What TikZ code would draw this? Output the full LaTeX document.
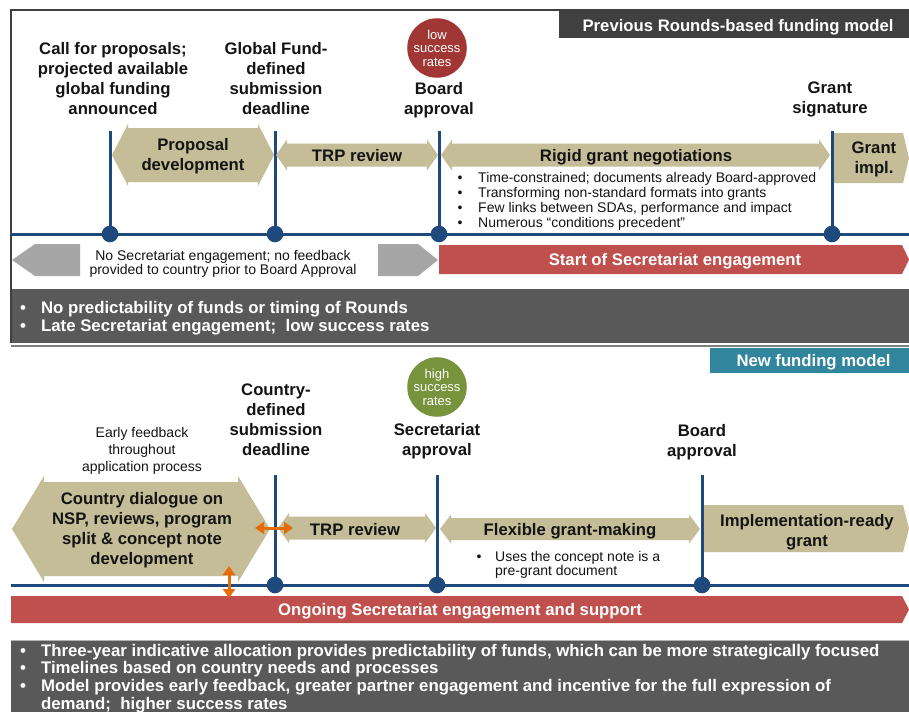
\documentclass[tikz,border=0pt]{standalone}
\usepackage{fontspec}
\setmainfont{Liberation Sans}
\usepackage{tikz}
\usetikzlibrary{arrows.meta}
\definecolor{fundTan}{RGB}{196,189,151}
\definecolor{fundRed}{RGB}{192,80,77}
\definecolor{lineBlue}{RGB}{31,73,125}
\definecolor{boxGray}{RGB}{89,89,89}
\definecolor{titleDark}{RGB}{64,64,64}
\definecolor{titleTeal}{RGB}{49,133,156}
\definecolor{arrowGray}{RGB}{166,166,166}
\definecolor{lowRed}{RGB}{160,55,52}
\definecolor{highGreen}{RGB}{119,147,60}
\definecolor{fbOrange}{RGB}{228,108,10}
\definecolor{textDark}{RGB}{20,20,20}

% [style]{x1}{x2}{ymid}{body half}{head half}{head length}
\newcommand{\dblShape}[7][]{%
  \path[#1] (#2,#4) -- ({#2+#7},{#4-#6}) -- ({#2+#7},{#4-#5}) -- ({#3-#7},{#4-#5})
    -- ({#3-#7},{#4-#6}) -- (#3,#4) -- ({#3-#7},{#4+#6}) -- ({#3-#7},{#4+#5})
    -- ({#2+#7},{#4+#5}) -- ({#2+#7},{#4+#6}) -- cycle;}
\newcommand{\rightShape}[7][]{%
  \path[#1] (#2,{#4-#5}) -- ({#3-#7},{#4-#5}) -- ({#3-#7},{#4-#6}) -- (#3,#4)
    -- ({#3-#7},{#4+#6}) -- ({#3-#7},{#4+#5}) -- (#2,{#4+#5}) -- cycle;}
\newcommand{\leftShape}[7][]{%
  \path[#1] (#3,{#4-#5}) -- ({#2+#7},{#4-#5}) -- ({#2+#7},{#4-#6}) -- (#2,#4)
    -- ({#2+#7},{#4+#6}) -- ({#2+#7},{#4+#5}) -- (#3,{#4+#5}) -- cycle;}

\begin{document}
\begin{tikzpicture}[
    x=1pt, y=-1pt,
    every node/.style={inner sep=0pt, align=center, text=textDark},
    mileLabel/.style={font=\fontsize{16.7}{20}\selectfont\bfseries, anchor=north},
    stageText/.style={font=\fontsize{16.7}{20}\selectfont\bfseries},
    barText/.style={font=\fontsize{16.7}{20}\selectfont\bfseries, text=white, anchor=base},
    noteText/.style={font=\fontsize{14}{14.8}\selectfont},
    boxText/.style={font=\fontsize{16.8}{17.7}\selectfont\bfseries, text=white, anchor=base west, align=left},
    rateCircle/.style={circle, minimum size=54pt, text=white, font=\fontsize{13}{13.5}\selectfont},
    tanShape/.style={fill=fundTan},
    redShape/.style={fill=fundRed},
    grayShape/.style={fill=arrowGray},
    timeLine/.style={draw=lineBlue, line width=3pt},
    fbArrow/.style={{Triangle[length=9pt,width=12pt]}-{Triangle[length=9pt,width=12pt]}, draw=fbOrange, line width=3pt}
]
\useasboundingbox[fill=white] (0,0) rectangle (909,712);

% Previous model frame
\fill[boxGray] (11,289) rectangle (909,343);
\draw[titleDark, line width=2pt] (11,343) -- (11,10) -- (909,10);
\draw[gray, line width=1.5pt] (11,346) -- (909,346);
\fill[titleDark] (559,10) rectangle (909,38);
\node[barText] (oldTitle) at (738,31.5) {Previous Rounds-based funding model};

% Previous model timeline
\draw[timeLine] (11,234) -- (909,234);
\foreach \mx in {110,275,439,832} {
  \draw[timeLine] (\mx,131) -- (\mx,234);
  \fill[lineBlue] (\mx,234) circle (8.3pt);
}

\dblShape[tanShape]{112}{274}{155}{27}{31}{16}
\dblShape[tanShape]{276}{438}{155}{11.5}{15.5}{11}
\dblShape[tanShape]{441}{830}{155}{11.5}{15.5}{11}
\rightShape[tanShape]{834}{909}{158}{25}{25}{6}
\leftShape[grayShape]{12}{80}{260}{16}{16}{23}
\rightShape[grayShape]{378}{438}{260}{16}{16}{20}
\rightShape[redShape]{439}{909}{259.5}{14.5}{14.5}{7}

% Previous model nodes
\node[mileLabel] (callLbl) at (113,41.7) {Call for proposals;\\projected available\\global funding\\announced};
\node[mileLabel] (deadlineLbl) at (276,41.7) {Global Fund-\\defined\\submission\\deadline};
\node[rateCircle, fill=lowRed] (lowRate) at (437,48) {low\\success\\rates};
\node[mileLabel] (boardLbl) at (439,81.7) {Board\\approval};
\node[mileLabel] (signLbl) at (830,81.7) {Grant\\signature};
\node[stageText, anchor=north] (propDev) at (193,138.3) {Proposal\\development};
\node[stageText, anchor=base] (trpOld) at (357,161.5) {TRP review};
\node[stageText, anchor=base] (rigidNeg) at (636,161.5) {Rigid grant negotiations};
\node[stageText, anchor=north] (grantImpl) at (874,141.7) {Grant\\impl.};
\node[noteText, anchor=base west, align=left] (rigidNotes) at (457.5,182.7) {%
  \begin{tabular}[t]{@{}l@{\hspace{15.6pt}}l@{}}
  \textbullet & Time-constrained; documents already Board-approved\\
  \textbullet & Transforming non-standard formats into grants\\
  \textbullet & Few links between SDAs, performance and impact\\
  \textbullet & Numerous ``conditions precedent''
  \end{tabular}};
\node[noteText, font=\fontsize{14}{13.5}\selectfont, anchor=north] (noFeedback) at (223,250.3) {No Secretariat engagement; no feedback\\provided to country prior to Board Approval};
\node[barText] (startSec) at (675,265) {Start of Secretariat engagement};
\node[boxText] (oldPoints) at (20,313.7) {%
  \begin{tabular}[t]{@{}l@{\hspace{15pt}}l@{}}
  \textbullet & No predictability of funds or timing of Rounds\\
  \textbullet & Late Secretariat engagement;\ \ low success rates
  \end{tabular}};

% New model
\fill[titleTeal] (710,348) rectangle (909,373);
\node[barText] (newTitle) at (813.5,366.5) {New funding model};

\draw[timeLine] (11,585) -- (909,585);
\foreach \mx in {275,437,702} {
  \draw[timeLine] (\mx,475) -- (\mx,585);
  \fill[lineBlue] (\mx,585) circle (8.3pt);
}

\dblShape[tanShape]{12}{270}{529}{47}{53}{32}
\dblShape[tanShape]{278}{436}{528}{11.5}{15}{11}
\dblShape[tanShape]{440}{700}{529}{11}{14.5}{11}
\rightShape[tanShape]{704}{909}{528.5}{23.5}{23.5}{6}
\rightShape[redShape]{11}{909}{609.5}{13.5}{13.5}{7}
\fill[boxGray] (11,640) rectangle (909,712);
\draw[gray!60, line width=1pt] (11,640) -- (909,640);

% New model nodes
\node[noteText, font=\fontsize{14}{17}\selectfont, anchor=north] (earlyFb) at (142,426.7) {Early feedback\\throughout\\application process};
\node[mileLabel] (countryDl) at (276,383.5) {Country-\\defined\\submission\\deadline};
\node[rateCircle, fill=highGreen] (highRate) at (437,387) {high\\success\\rates};
\node[mileLabel] (secAppr) at (437,423.5) {Secretariat\\approval};
\node[mileLabel] (boardNew) at (702,424) {Board\\approval};
\node[stageText, anchor=north] (dialogue) at (142,492.5) {Country dialogue on\\NSP, reviews, program\\split \& concept note\\development};
\node[stageText, anchor=base] (trpNew) at (355,535) {TRP review};
\node[stageText, anchor=base] (flexGrant) at (570,535) {Flexible grant-making};
\node[stageText, anchor=north] (implReady) at (807,514) {Implementation-ready\\grant};
\node[noteText, font=\fontsize{14}{13.5}\selectfont, anchor=base west, align=left] (flexNotes) at (476.5,561.7) {%
  \begin{tabular}[t]{@{}l@{\hspace{13.6pt}}l@{}}
  \textbullet & Uses the concept note is a\\
  & pre-grant document
  \end{tabular}};
\node[barText] (ongoing) at (460,615.5) {Ongoing Secretariat engagement and support};
\node[boxText] (newPoints) at (20,656) {%
  \begin{tabular}[t]{@{}l@{\hspace{15pt}}l@{}}
  \textbullet & Three-year indicative allocation provides predictability of funds, which can be more strategically focused\\
  \textbullet & Timelines based on country needs and processes\\
  \textbullet & Model provides early feedback, greater partner engagement and incentive for the full expression of\\
  & demand;\ \ higher success rates
  \end{tabular}};

% Feedback arrows
\coordinate (fbWest) at (255,528);
\coordinate (fbEast) at (293,528);
\coordinate (fbTop) at (229,566);
\coordinate (fbBottom) at (229,598);
\draw[fbArrow] (fbWest) -- (fbEast);
\draw[fbArrow] (fbTop) -- (fbBottom);

\end{tikzpicture}
\end{document}
